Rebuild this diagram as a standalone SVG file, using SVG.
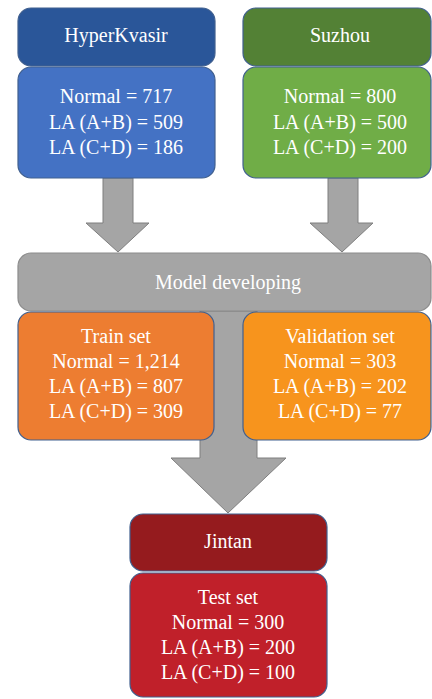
<svg xmlns="http://www.w3.org/2000/svg" width="432" height="699" viewBox="0 0 432 699">
<style>
.box{stroke:#41608f;stroke-width:1.2}
.arrow{fill:#a5a5a5;stroke:#7f7f7f;stroke-width:1}
.t{font-family:'Liberation Serif','DejaVu Serif',serif;font-size:20px;fill:#ffffff;text-anchor:middle}
</style>
<rect width="432" height="699" fill="#ffffff"/>
<g id="connectors">
<path class="arrow" d="M103,178 H133 V223 H149 L118,252 L86,223 H103 Z"/>
<path class="arrow" d="M328,178 H358 V223 H373 L342,252 L310,223 H328 Z"/>
<path class="arrow" d="M200,311 H257 V458 H286 L228,513 L171,458 H200 Z"/>
</g>
<g id="hyperkvasir">
<rect class="box" x="18" y="8" width="197" height="58" rx="13" fill="#2a5699"/>
<text class="t" x="116" y="42">HyperKvasir</text>
</g>
<g id="hyperkvasir-data">
<rect class="box" x="18" y="67" width="197" height="111" rx="13" fill="#4472c4"/>
<text class="t" x="116" y="103">Normal = 717</text>
<text class="t" x="116" y="129">LA (A+B) = 509</text>
<text class="t" x="116" y="154">LA (C+D) = 186</text>
</g>
<g id="suzhou">
<rect class="box" x="243" y="8" width="188" height="58" rx="13" fill="#538135"/>
<text class="t" x="340" y="42">Suzhou</text>
</g>
<g id="suzhou-data">
<rect class="box" x="243" y="67" width="188" height="111" rx="13" fill="#70ad47"/>
<text class="t" x="340" y="103">Normal = 800</text>
<text class="t" x="340" y="129">LA (A+B) = 500</text>
<text class="t" x="340" y="154">LA (C+D) = 200</text>
</g>
<g id="model-developing">
<rect x="18" y="253" width="413" height="58" rx="13" fill="#a5a5a5" stroke="#8c8c8c" stroke-width="1.2"/>
<text class="t" x="228" y="289">Model developing</text>
</g>
<g id="train-set">
<rect class="box" x="18" y="312" width="196" height="128" rx="13" fill="#ed7d31"/>
<text class="t" x="116" y="343">Train set</text>
<text class="t" x="116" y="368">Normal = 1,214</text>
<text class="t" x="116" y="393">LA (A+B) = 807</text>
<text class="t" x="116" y="418">LA (C+D) = 309</text>
</g>
<g id="validation-set">
<rect class="box" x="243" y="312" width="188" height="128" rx="13" fill="#f7941d"/>
<text class="t" x="340" y="343">Validation set</text>
<text class="t" x="340" y="368">Normal = 303</text>
<text class="t" x="340" y="393">LA (A+B) = 202</text>
<text class="t" x="340" y="418">LA (C+D) = 77</text>
</g>
<g id="jintan">
<rect class="box" x="130" y="514" width="197" height="57" rx="13" fill="#951b1e"/>
<text class="t" x="228" y="548">Jintan</text>
</g>
<g id="test-set">
<rect class="box" x="130" y="573" width="197" height="124" rx="13" fill="#c0202a"/>
<text class="t" x="228" y="604">Test set</text>
<text class="t" x="228" y="629">Normal = 300</text>
<text class="t" x="228" y="654">LA (A+B) = 200</text>
<text class="t" x="228" y="679">LA (C+D) = 100</text>
</g>
</svg>
